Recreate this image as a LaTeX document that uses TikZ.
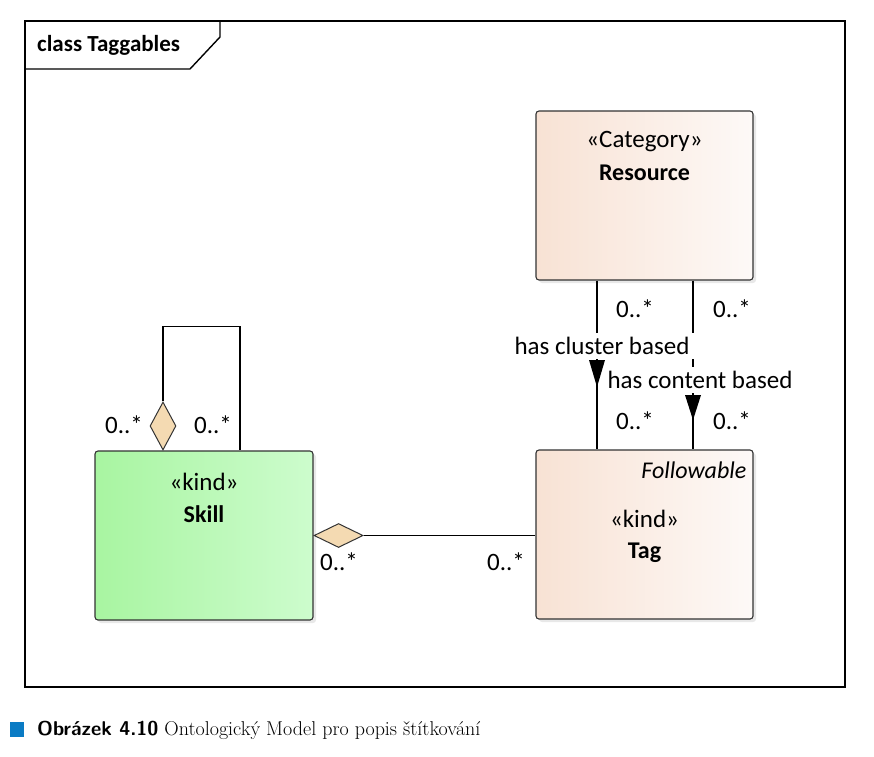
\documentclass[tikz,border=0pt]{standalone}
\usepackage{fontspec}
\newfontfamily\umlfont{Carlito}
\usetikzlibrary{positioning}
\usetikzlibrary{shadows}
\usetikzlibrary{shapes.geometric}
\definecolor{skillleft}{HTML}{A8F5A1}
\definecolor{skillright}{HTML}{CDFCCD}
\definecolor{tagleft}{HTML}{F8E2D4}
\definecolor{tagright}{HTML}{FDF9F7}
\definecolor{aggfill}{HTML}{F4DAB2}
\definecolor{captionblue}{HTML}{0A7BC4}
\tikzset{umltext/.style={font=\umlfont\fontsize{25}{29}\selectfont, inner sep=0pt}}
\tikzset{umlname/.style={font=\umlfont\bfseries\fontsize{24}{28}\selectfont, inner sep=0pt}}
\tikzset{classbox/.style={draw=black!80, line width=1.1pt, rounded corners=3pt, minimum width=217pt, minimum height=169pt, left color=#1left, right color=#1right, drop shadow={shadow xshift=3pt, shadow yshift=-3pt, fill=black!18}}}
\tikzset{assoclabel/.style={umltext, fill=white, inner xsep=5pt, inner ysep=4.5pt}}
\tikzset{aggdiamond/.style={diamond, draw=black!80, fill=aggfill, line width=1pt, inner sep=0pt}}
\tikzset{conn/.style={line width=1.2pt}}

\begin{document}
\begin{tikzpicture}[x=1pt, y=-1pt]
\useasboundingbox (0,0) rectangle (874,756);

% frame
\draw[line width=1.4pt] (25,21) rectangle (845,687);
\draw[line width=1.4pt] (25,69) -- (190,69) -- (220,37) -- (220,21);
\node[umlname, font=\umlfont\bfseries\fontsize{23}{27}\selectfont, anchor=west] (frametitle) at (37,45) {class Taggables};

% classes
\node[classbox=tag] (res) at (644.5,195.5) {};
\node[umltext] (resst) at ([yshift=-31pt]res.north) {«Category»};
\node[umlname, on grid, below=31pt of resst] (resname) {Resource};

\node[classbox=tag] (tag) at (644.5,534.5) {};
\node[umltext, font=\umlfont\itshape\fontsize{24}{28}\selectfont, anchor=east] (tagabs) at ([xshift=-7pt, yshift=-21pt]tag.north east) {Followable};
\node[umltext] (tagst) at ([yshift=-69pt]tag.north) {«kind»};
\node[umlname, on grid, below=34pt of tagst] (tagname) {Tag};

\node[classbox=skill, minimum width=218pt] (skill) at (204,535.5) {};
\node[umltext] (skillst) at ([yshift=-31pt]skill.north) {«kind»};
\node[umlname, on grid, below=33pt of skillst] (skillname) {Skill};

% Resource -- Tag
\draw[conn] ([xshift=-47.5pt]res.south) -- ([xshift=-47.5pt]tag.north);
\draw[conn] ([xshift=48.5pt]res.south) -- ([xshift=48.5pt]tag.north);
\node[assoclabel] (cluster) at (602,346) {has cluster based};
\node[assoclabel] (content) at (700,380) {has content based};
\fill (589,360) -- (605,360) -- (597,387) -- cycle;
\fill (685,395) -- (701,395) -- (693,420) -- cycle;
\node[umltext] (m1) at (635,309) {0..*};
\node[umltext] (m2) at (732,309) {0..*};
\node[umltext] (m3) at (635,421) {0..*};
\node[umltext] (m4) at (732,421) {0..*};

% Skill -- Skill
\node[aggdiamond, minimum width=26pt, minimum height=48pt, anchor=south] (selfagg) at ([xshift=-41pt]skill.north) {};
\draw[conn] (selfagg.north) -- ++(0,-75) -| ([xshift=36pt]skill.north);
\node[umltext] (m5) at (124,425) {0..*};
\node[umltext] (m6) at (213,425) {0..*};

% Skill -- Tag
\node[aggdiamond, minimum width=49pt, minimum height=24pt, anchor=west] (tagagg) at (skill.east) {};
\draw[conn] (tagagg.east) -- (tagagg.east -| tag.west);
\node[umltext] (m7) at (339,562) {0..*};
\node[umltext] (m8) at (506,562) {0..*};

% caption
\fill[captionblue] (10,722) rectangle (24,737);
\node[anchor=base west, inner sep=0pt, font=\fontsize{20}{23}\selectfont] (caption) at (37,735) {\textsf{\bfseries Obrázek 4.10} Ontologický Model pro popis štítkování};
\end{tikzpicture}
\end{document}
